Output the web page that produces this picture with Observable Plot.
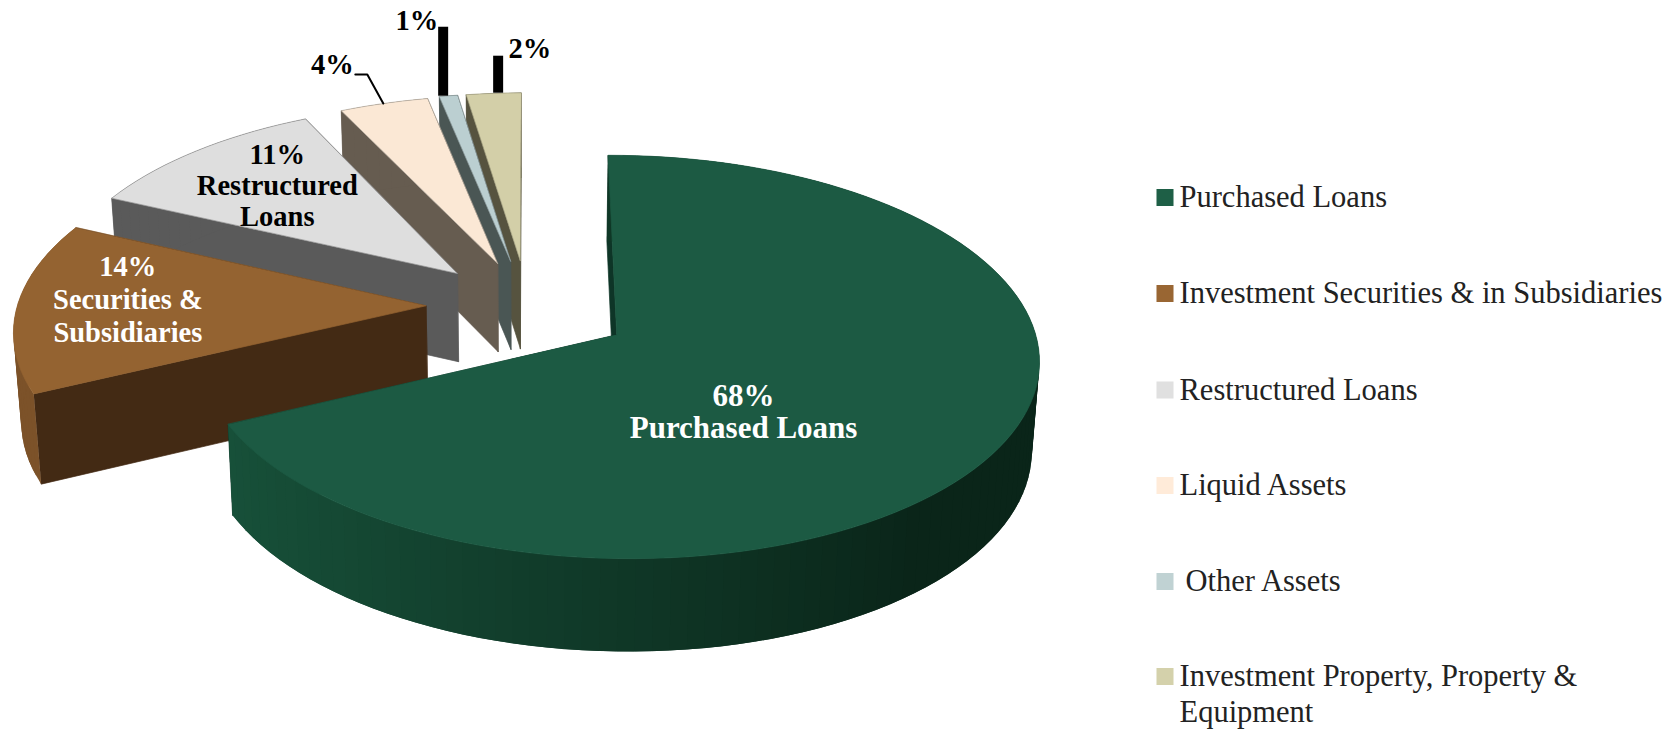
<!DOCTYPE html>
<html><head><meta charset="utf-8">
<script src="https://cdn.jsdelivr.net/npm/d3@7"></script>
<script src="https://cdn.jsdelivr.net/npm/@observablehq/plot@0.6"></script>
<style>html,body{margin:0;padding:0;background:#fff;overflow:hidden}svg{display:block}</style>
</head><body><div id="chart"></div>
<script>
// ---- data ----
const categories = ["Purchased Loans","Investment Securities & in Subsidiaries","Restructured Loans","Liquid Assets","Other Assets","Investment Property, Property &\nEquipment"];
const shares = [67.9,14,11,3.9,0.8,2.4];
const sliceLabels = ["68%\nPurchased Loans","14%\nSecurities &\nSubsidiaries","11%\nRestructured\nLoans","4%","1%","2%"];
// ---- styles ----
const topColors = ["#1c5a43","#946331","#dedede","#fbe8d5","#bbcfd1","#d3cfa8"];
const edgeColors = ["#1c5a43","#946331","#9a9a9a","#b5aca0","#8f9d9f","#a5a283"];
const swatchColors = ["#1e5f46","#996633","#e0e0e0","#ffebd9","#c0d2d3","#d4d1ab"];
const wallColors = ["#0e3527","#432a14","#5a5a5a","#665c50","#4a5654","#56533f"];
const arcLight = ["#175039","#7c5229","#5a5a5a","#665c50","#4a5654","#56533f"];
const arcDark = ["#0a2519","#7c5229","#5a5a5a","#665c50","#4a5654","#56533f"];
const labelColors = ["#fff","#fff","#000","#000","#000","#000"];
const labelSizes = [31,28.5,28.5,28.5,28.5,28.5];
const labelLeading = [1.03,1.16,1.08,1,1,1];
// ---- layout (plane units of the tilted pie) ----
const W = 1678, H = 730;
const view = {cx:529, cy:307, rx:416, ry:196, k:0.11, m:0.005, explode:0.238, taper:0.985, depth:88, depthGrow:0.0167, depthRef:260};
const sliceNudgeX = [0.005,-0.012,-0.008,-0.003,-0.005,-0.005];
const sliceNudgeY = [-0.01,0.01,0.01,0.004,0.008,0.008];
const sliceSquashX = [0.985,0.99,0.99,1,1,1];
const sliceSquashY = [0.985,1,1,1,1,1];
const labelPlane = [[.485,-.5],[-.975,.045],[-.653,.672],[-.55,1.436],[-.323,1.749],[.001,1.541]];
const legendY = [197,293,389.5,485,581,676];
const legendTextX = [1179,1179,1179,1179,1185,1179];
const legendFont = {size:30.5, family:"Liberation Serif", leading:1.18};
const barAngles = [349.1,356.4], barRise = [69,37];

const rad = d => d*Math.PI/180;
function project(X,Y){
  const s = 1/(1+view.k*Y-view.m*X);
  return [view.cx+view.rx*X*s, view.cy-view.ry*Y*s];
}
function lower([x,y]){
  return [view.cx+(x-view.cx)*view.taper, y+view.depth+view.depthGrow*(y-view.depthRef)];
}
let acc = 0;
const slices = shares.map((v,i)=>{
  const a0 = acc/100*360; acc += v; const a1 = acc/100*360; const mid=(a0+a1)/2;
  return {i,a0,a1,mid,
    ox:view.explode*Math.sin(rad(mid))+sliceNudgeX[i],
    oy:view.explode*Math.cos(rad(mid))+sliceNudgeY[i],
    sx:sliceSquashX[i],sy:sliceSquashY[i]};
});
const rim = (s,a)=>project(s.ox+s.sx*Math.sin(rad(a)), s.oy+s.sy*Math.cos(rad(a)));
const apex = s=>project(s.ox,s.oy);

const polys = [];
let pid = 0;
function addPoly(pts,fill,stroke){ const id=pid++; pts.forEach(p=>polys.push({id,x:p[0],y:p[1],fill,stroke:stroke||"none"})); }
// painter's order: far thin slices first, the big slice last
[5,4,3,2,1,0].forEach(i=>{
  const s = slices[i];
  const a = apex(s);
  // radial walls: end edge, then start edge
  const e=rim(s,s.a1), b=rim(s,s.a0);
  addPoly([a,e,lower(e),lower(a)],wallColors[i],wallColors[i]);
  addPoly([a,b,lower(b),lower(a)],wallColors[i],wallColors[i]);
  // arc wall, in bands that overlap the next one
  const n = Math.max(2,Math.ceil((s.a1-s.a0)/2.2));
  const step=(s.a1-s.a0)/n;
  for(let j=0;j<n;j++){
    const t0=s.a0+step*j, t1=Math.min(s.a1,t0+step*2);
    const p0=rim(s,t0), p1=rim(s,t1);
    const t=Math.max(0,Math.min(1,(Math.sin(rad(t0+step/2))+.9)/1.55));
    const c=d3.interpolateRgb(arcLight[i],arcDark[i])(t);
    addPoly([p0,p1,lower(p1),lower(p0)],c);
  }
  // top surface
  const top=[a];
  for(let j=0;j<=n;j++) top.push(rim(s,s.a0+step*j));
  addPoly(top,topColors[i],edgeColors[i]);
});

const polyMark = Plot.line(polys,{x:"x",y:"y",z:"id",curve:"linear-closed",
  fill:{value:d=>d.fill,scale:null},stroke:{value:d=>d.stroke,scale:null},strokeWidth:0.7,strokeLinejoin:"round"});

// leaders
const p4 = rim(slices[3],341.4);
const leader4 = [p4,[p4[0]-16,p4[1]-29],[p4[0]-28,p4[1]-29]].map(p=>({x:p[0],y:p[1]}));
const bars = barAngles.map((a,j)=>{const p=rim(slices[4+j],a);return {x:p[0],y1:p[1]-barRise[j],y2:p[1]};});

const labelRows = sliceLabels.map((t,i)=>{const p=project(labelPlane[i][0],labelPlane[i][1]);return {t,i,x:p[0],y:p[1],c:labelColors[i],size:labelSizes[i]};});
const legendRows = categories.map((t,i)=>({t,y:legendY[i],x:legendTextX[i],c:swatchColors[i]}));

const labelMark = rows => Plot.text(rows,{x:"x",y:"y",text:"t",fill:{value:d=>d.c,scale:null},fontFamily:"Liberation Serif",fontWeight:700,fontSize:rows[0].size,lineHeight:labelLeading[rows[0].i],textAnchor:"middle"});

const chart = Plot.plot({
  width:W,height:H,margin:0,
  x:{domain:[0,W],range:[0,W],axis:null},
  y:{domain:[0,H],range:[0,H],axis:null},
  style:{background:"#fff"},
  marks:[
    polyMark,
    Plot.line(leader4,{x:"x",y:"y",stroke:"#000",strokeWidth:2,curve:"linear"}),
    Plot.ruleX(bars,{x:"x",y1:"y1",y2:"y2",stroke:"#000",strokeWidth:10}),
    labelMark(labelRows.slice(0,1)),
    labelMark(labelRows.slice(1,2)),
    labelMark(labelRows.slice(2,3)),
    labelMark(labelRows.slice(3)),
    Plot.dot(legendRows,{x:1164.5,y:"y",symbol:"square",r:9.6,fill:{value:d=>d.c,scale:null},stroke:null}),
    Plot.text(legendRows,{x:"x",y:"y",text:"t",dy:-16,lineAnchor:"top",textAnchor:"start",fill:"#222",fontFamily:legendFont.family,fontSize:legendFont.size,lineHeight:legendFont.leading})
  ]
});
document.getElementById("chart").append(chart);
</script></body></html>
